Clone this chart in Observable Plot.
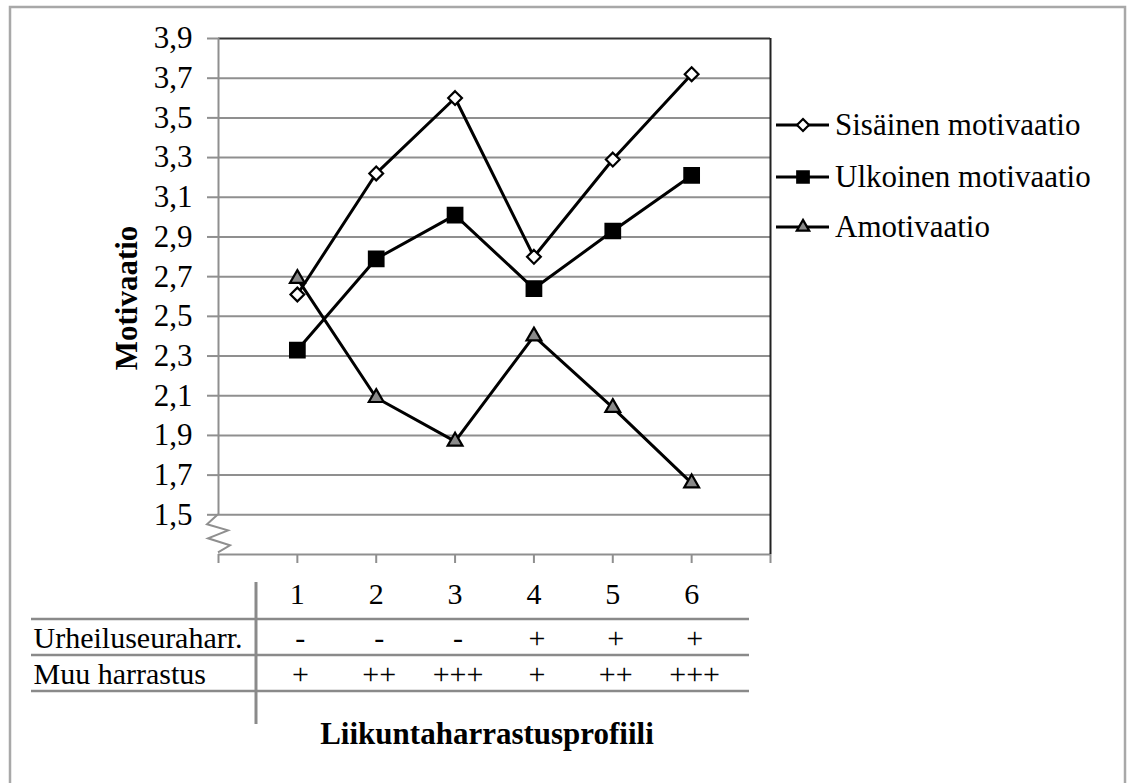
<!DOCTYPE html>
<html>
<head>
<meta charset="utf-8">
<script src="https://cdn.jsdelivr.net/npm/d3@7"></script>
<script src="https://cdn.jsdelivr.net/npm/@observablehq/plot@0.6"></script>
<style>
  html, body { margin: 0; padding: 0; background: #fff; }
  svg { display: block; }
</style>
</head>
<body>
<div id="chart"></div>
<script>
// ---- Data ----
const categories = [1, 2, 3, 4, 5, 6];
const seriesNames = ["Sisäinen motivaatio", "Ulkoinen motivaatio", "Amotivaatio"];
const sisainen = [2.61, 3.22, 3.60, 2.80, 3.29, 3.72];
const ulkoinen = [2.33, 2.79, 3.01, 2.64, 2.93, 3.21];
const amotivaatio = [2.69, 2.09, 1.87, 2.40, 2.04, 1.66];
const urheiluseura = ["-", "-", "-", "+", "+", "+"];
const muuHarrastus = ["+", "++", "+++", "+", "++", "+++"];
const rowLabels = ["Urheiluseuraharr.", "Muu harrastus"];
const yTicks = [1.5, 1.7, 1.9, 2.1, 2.3, 2.5, 2.7, 2.9, 3.1, 3.3, 3.5, 3.7, 3.9];
const yTitle = "Motivaatio";
const xTitle = "Liikuntaharrastusprofiili";

const seriesValues = [sisainen, ulkoinen, amotivaatio];
const rows = seriesNames.flatMap((s, si) =>
  categories.map((c, i) => ({series: s, cat: c, value: seriesValues[si][i]})));

const serif = "'Liberation Serif', 'Times New Roman', serif";
const gridGray = "#8f8f8f";
const W = 1127, H = 783;
const mL = 218, mR = 357, mT = 38, mB = 229;

const styles = {
  "Sisäinen motivaatio": {symbol: "diamond2", fill: "white", r: 6.2},
  "Ulkoinen motivaatio": {symbol: "square", fill: "black", r: 8.2},
  "Amotivaatio": {symbol: "triangle", fill: "#8a8a8a", r: 5.5}
};

const chart = Plot.plot({
  width: W, height: H,
  marginLeft: mL, marginRight: mR, marginTop: mT, marginBottom: mB,
  x: {domain: [0, 7], axis: null, label: null},
  y: {domain: [1.3, 3.9], axis: null, label: null},
  style: {fontFamily: serif, fontSize: "30px", color: "black", background: "white", overflow: "visible"},
  marks: [
    Plot.ruleY(yTicks.filter(t => t < 3.85), {stroke: gridGray, strokeWidth: 2}),
    Plot.ruleY([1.3], {stroke: gridGray, strokeWidth: 2}),
    Plot.ruleY([3.9], {stroke: "#333", strokeWidth: 2}),
    Plot.ruleX([7], {stroke: "#222", strokeWidth: 2}),
    Plot.ruleX([0], {y1: 1.5, y2: 3.9, stroke: gridGray, strokeWidth: 2}),
    Plot.axisY({ticks: yTicks, tickSize: 11, tickPadding: 15, label: null,
      tickFormat: d => d.toFixed(1).replace(".", ","),
      stroke: gridGray, strokeWidth: 2, fontSize: 31, fill: "black"}),
    Plot.axisX({ticks: [0, 1, 2, 3, 4, 5, 6, 7], tickSize: 9, tickFormat: () => "", label: null,
      stroke: gridGray, strokeWidth: 2}),
    Plot.line(rows, {x: "cat", y: "value", z: "series", stroke: "black", strokeWidth: 3}),
    ...seriesNames.map(s => Plot.dot(rows.filter(d => d.series === s), {
      x: "cat", y: "value", symbol: styles[s].symbol, r: styles[s].r,
      fill: styles[s].fill, stroke: "black", strokeWidth: 2.2
    })),
    Plot.text(categories, {x: d => d, text: d => String(d), frameAnchor: "bottom",
      lineAnchor: "bottom", dy: 49, fontSize: 30, fill: "black"}),
    Plot.text(categories, {x: d => d, text: (d, i) => urheiluseura[i], frameAnchor: "bottom",
      lineAnchor: "bottom", dy: 93, dx: 3, fontSize: 30, fill: "black"}),
    Plot.text(categories, {x: d => d, text: (d, i) => muuHarrastus[i], frameAnchor: "bottom",
      lineAnchor: "bottom", dy: 129, dx: 3, fontSize: 30, fill: "black"}),
    Plot.text(rowLabels.slice(0, 1), {text: d => d, frameAnchor: "bottom-left", textAnchor: "start",
      lineAnchor: "bottom", dx: 33 - mL, dy: 93, fontSize: 30, fill: "black"}),
    Plot.text(rowLabels.slice(1, 2), {text: d => d, frameAnchor: "bottom-left", textAnchor: "start",
      lineAnchor: "bottom", dx: 33 - mL, dy: 129, fontSize: 30, fill: "black"})
  ]
});

document.getElementById("chart").appendChild(chart);

// post-render decorations
const svg = d3.select(chart);
const xs = chart.scale("x"), ys = chart.scale("y");
const x0 = xs.apply(0), y15 = ys.apply(1.5);

// zigzag axis break
const zig = [[x0, y15], [x0 - 11, y15 + 10], [x0 + 10, y15 + 16], [x0 - 10, y15 + 24], [x0 + 12, y15 + 31], [x0, y15 + 38]];
svg.append("path").attr("d", d3.line()(zig)).attr("fill", "none")
  .attr("stroke", gridGray).attr("stroke-width", 2);

// table lines
const g = svg.append("g");
[619, 655, 691].forEach(y => g.append("line")
  .attr("x1", 31).attr("x2", 749).attr("y1", y).attr("y2", y)
  .attr("stroke", "#8a8a8a").attr("stroke-width", 2.5));
g.append("line").attr("x1", 256).attr("x2", 256).attr("y1", 582).attr("y2", 724)
  .attr("stroke", "#8a8a8a").attr("stroke-width", 3);

// axis titles
svg.append("text").attr("x", 487).attr("y", 744).attr("text-anchor", "middle")
  .attr("font-family", serif).attr("font-weight", "bold").attr("font-size", 31)
  .attr("fill", "black").text(xTitle);
svg.append("text").attr("transform", "translate(137, 298) rotate(-90)")
  .attr("text-anchor", "middle")
  .attr("font-family", serif).attr("font-weight", "bold").attr("font-size", 31)
  .attr("fill", "black").text(yTitle);

// legend
const symMap = {diamond2: d3.symbolDiamond2, square: d3.symbolSquare, triangle: d3.symbolTriangle};
const legY = [125, 177, 227];
seriesNames.forEach((s, i) => {
  const st = styles[s];
  const y = legY[i];
  svg.append("line").attr("x1", 776).attr("x2", 829).attr("y1", y).attr("y2", y)
    .attr("stroke", "black").attr("stroke-width", 3);
  const rr = i === 1 ? 6.5 : (i === 2 ? 4.6 : 5.4);
  svg.append("path").attr("transform", `translate(803, ${y})`)
    .attr("d", d3.symbol(symMap[st.symbol], Math.PI * rr * rr)())
    .attr("fill", st.fill).attr("stroke", "black").attr("stroke-width", 2.2);
  svg.append("text").attr("x", 835).attr("y", y + 10).attr("text-anchor", "start")
    .attr("font-family", serif).attr("font-size", 31).attr("fill", "black").text(s);
});

// outer border
svg.append("rect").attr("x", 10).attr("y", 7).attr("width", 1115).attr("height", 800)
  .attr("fill", "none").attr("stroke", "#a8a8a8").attr("stroke-width", 2.5);
</script>
</body>
</html>
